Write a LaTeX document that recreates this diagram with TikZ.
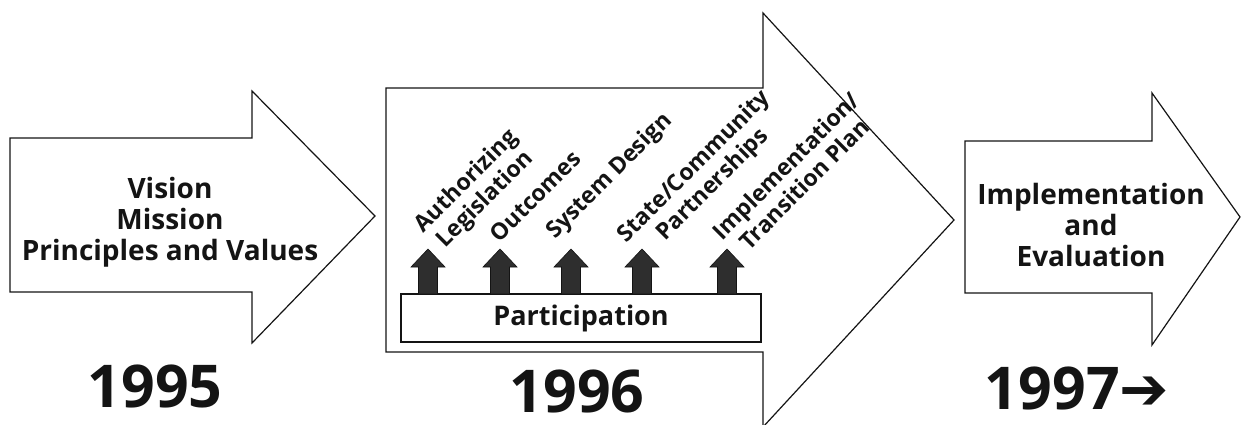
\documentclass[tikz,border=0pt]{standalone}
\usepackage{fontspec}
\setmainfont{Open Sans}
\newfontfamily\symfont{DejaVu Sans}
\usepackage{xcolor}
\usepackage{tikz}
\definecolor{tlink}{HTML}{141414}
\definecolor{tldot}{HTML}{2E2E2E}
\tikzset{
  tarrow/.style={draw=tlink, fill=white, line width=1.2pt, line join=miter},
  ttext/.style={align=center, text=tlink, inner sep=0pt, font=\fontsize{28}{31}\selectfont\bfseries},
  tbox/.style={rectangle, draw=tlink, fill=white, line width=1.1pt, minimum width=360pt, minimum height=48pt,
    inner sep=0pt, text=tlink, font=\fontsize{27}{30}\selectfont\bfseries},
  tup/.style={draw=tlink, fill=tldot, line width=0.6pt},
  tlabel/.style={rotate=45, anchor=south west, align=center, inner sep=0pt, text=tlink,
    font=\fontsize{23}{26}\selectfont\bfseries},
  tyear/.style={inner sep=0pt, text=tlink, font=\fontsize{59}{60}\selectfont\bfseries}
}

\begin{document}
\begin{tikzpicture}[x=1pt, y=-1pt]
  \fill[white] (0,0) rectangle (1241,425);
  \useasboundingbox (0,0) rectangle (1241,425);
  % arrow 1
  \path[tarrow] (10,138) -- (252,138) -- (252,91) -- (375,216) -- (252,343) -- (252,292) -- (10,292) -- cycle;
  \node[ttext] (vision) at (170,222) {Vision\\Mission\\Principles and Values};
  \node[tyear] (y95) at (155,386) {1995};
  % arrow 2
  \path[tarrow] (386,88) -- (763,88) -- (763,13) -- (954,220) -- (763,427) -- (763,352) -- (386,352) -- cycle;
  \node[tbox] (part) at (581,318) {Participation};
  \foreach \x in {428,500,571,642,727}
    \path[tup] (\x-9.5,294) -- (\x-9.5,267) -- (\x-17,267) -- (\x,249) -- (\x+17,267) -- (\x+9.5,267) -- (\x+9.5,294) -- cycle;
  \node[tlabel] (lab1) at (446,256) {Authorizing\\Legislation};
  \node[tlabel] (lab2) at (500,244) {Outcomes};
  \node[tlabel] (lab3) at (559,244) {System Design};
  \node[tlabel] (lab4) at (649,266) {State/Community\\Partnerships};
  \node[tlabel] (lab5) at (741,260) {Implementation/\\Transition Plan};
  \node[tyear] (y96) at (577,391) {1996};
  % arrow 3
  \path[tarrow] (965,141) -- (1152,141) -- (1152,93) -- (1240,217) -- (1152,345) -- (1152,293) -- (965,293) -- cycle;
  \node[ttext] (impl) at (1091,225) {Implementation\\and\\Evaluation};
  \node[tyear] (y97) at (1077,388) {1997{\symfont\bfseries ➔}};
\end{tikzpicture}
\end{document}
